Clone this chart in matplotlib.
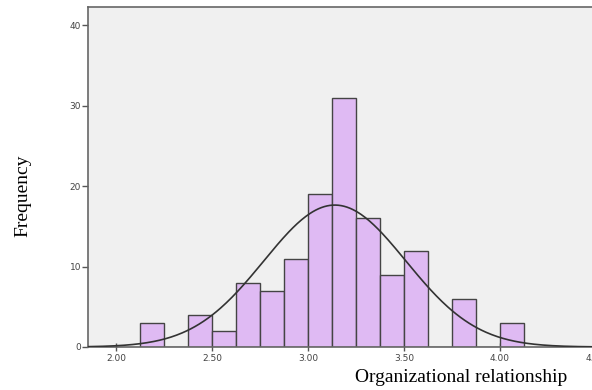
import numpy as np
import matplotlib.pyplot as plt

# ============================================
# DATA
# ============================================
bin_left = [2.125, 2.25, 2.375, 2.5, 2.625, 2.75, 2.875, 3.0,
            3.125, 3.25, 3.375, 3.5, 3.625, 3.75, 3.875, 4.0]
counts = [3, 0, 4, 2, 8, 7, 11, 19, 31, 16, 9, 12, 0, 6, 0, 3]
bin_width = 0.125

# normal curve parameters
mean = 3.14
std = 0.37
n_total = sum(counts)

x_ticks = [2.0, 2.5, 3.0, 3.5, 4.0, 4.5]
x_tick_labels = ["2.00", "2.50", "3.00", "3.50", "4.00", "4.50"]
y_ticks = [0, 10, 20, 30, 40]

# ============================================
# PLOT
# ============================================
fig = plt.figure(figsize=(5.92, 3.90), dpi=100)
ax = fig.add_axes([0.1486, 0.1103, 0.939, 0.8718])
ax.set_facecolor("#F0F0F0")

ax.bar(bin_left, counts, width=bin_width, align="edge",
       color="#DFBAF3", edgecolor="#444444", linewidth=1.0, zorder=2)

xs = np.linspace(1.85, 4.8, 400)
ys = n_total * bin_width / (std * np.sqrt(2 * np.pi)) * np.exp(-(xs - mean) ** 2 / (2 * std ** 2))
ax.plot(xs, ys, color="#333333", linewidth=1.2, zorder=3)

ax.set_xlim(1.854, 4.75)
ax.set_ylim(0, 42.3)
ax.set_xticks(x_ticks)
ax.set_xticklabels(x_tick_labels)
ax.set_yticks(y_ticks)
ax.tick_params(axis="both", labelsize=6.5, colors="#555555", labelcolor="#444444",
               length=4, width=1)
ax.tick_params(axis="x", direction="inout", length=6, pad=2)
ax.tick_params(axis="y", pad=1)

for side in ["left", "top", "bottom"]:
    ax.spines[side].set_color("#666666")
    ax.spines[side].set_linewidth(1.2)
ax.spines["right"].set_visible(False)

fig.text(0.039, 0.497, "Frequency", rotation=90, ha="center", va="center",
         family="Liberation Serif", fontsize=14)
fig.text(0.779, 0.033, "Organizational relationship", ha="center", va="center",
         family="Liberation Serif", fontsize=14)

fig.savefig("out.png", dpi=100)
